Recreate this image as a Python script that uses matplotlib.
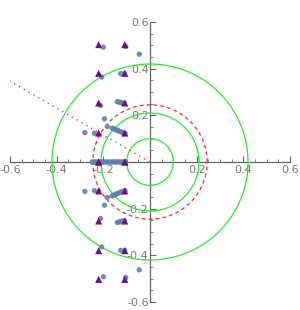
import numpy as np
import matplotlib
matplotlib.use("Agg")
from matplotlib import pyplot as plt

# pole positions (triangles)
tri_x = [-0.22, -0.108, -0.22, -0.108, -0.22, -0.108, -0.22, -0.108, -0.22, -0.108]
tri_y = [0.0, 0.0, 0.124, 0.124, 0.253, 0.253, 0.38, 0.38, 0.503, 0.503]

# root points, upper half plane (lower half is the conjugate)
dot_x = [-0.200, -0.104, -0.046,
         -0.207, -0.126, -0.109,
         -0.212, -0.140, -0.133, -0.126, -0.118, -0.109,
         -0.195, -0.183, -0.279, -0.238,
         -0.162, -0.155, -0.148, -0.141, -0.134, -0.127, -0.120, -0.113, -0.107]
dot_y = [0.492, 0.495, 0.462,
         0.364, 0.379, 0.379,
         0.242, 0.259, 0.257, 0.255, 0.253, 0.252,
         0.185, 0.152, 0.126, 0.123,
         0.145, 0.142, 0.139, 0.136, 0.133, 0.130, 0.128, 0.125, 0.123]
# one point just above the frame (only a sliver shows)
edge_x = [-0.245]
edge_y = [0.617]
# roots on the real axis
real_x = [-0.248, -0.240, -0.232, -0.224, -0.216, -0.208, -0.200, -0.192, -0.184,
          -0.176, -0.168, -0.160, -0.152, -0.144, -0.136, -0.128, -0.120, -0.112, -0.106]

green_r = [0.1, 0.21, 0.42]
red_r = 0.245
zeta_angle = 150  # degrees
ticks = [-0.6, -0.4, -0.2, 0.2, 0.4, 0.6]

fig = plt.figure(figsize=(3, 3.1), dpi=100)
ax = fig.add_axes([10 / 300, 8 / 310, 280 / 300, 280 / 310])
ax.set_xlim(-0.6, 0.6)
ax.set_ylim(-0.6, 0.6)
ax.set_aspect("equal")

t = np.linspace(0, 2 * np.pi, 400)
for r in green_r:
    ax.plot(r * np.cos(t), r * np.sin(t), color="#22ee22", lw=0.9, zorder=2)
ax.plot(red_r * np.cos(t), red_r * np.sin(t), color="#ff2222", lw=0.9,
        ls=(0, (3, 2.5)), zorder=2)

a = np.deg2rad(zeta_angle)
ax.plot([0, 0.75 * np.cos(a)], [0, 0.75 * np.sin(a)], color="#ff3333", lw=1.0,
        ls=(0, (1, 3)), zorder=2)
ax.plot([-0.6, 0], [0, 0], color="#22ee22", lw=1.0, ls=(0, (1, 2)), zorder=1)

xs = dot_x + dot_x + real_x + edge_x
ys = dot_y + [-y for y in dot_y] + [0.0] * len(real_x) + edge_y
ax.scatter(xs, ys, s=15, color="#5e81b5", edgecolors="none", alpha=0.9, zorder=3)
ax.scatter(tri_x + tri_x, tri_y + [-y for y in tri_y], s=26, marker="^",
           color="#7a0a84", edgecolors="none", zorder=4)

# mathematica-style axes through origin
for s in ["top", "right"]:
    ax.spines[s].set_visible(False)
ax.spines["left"].set_position(("data", 0))
ax.spines["bottom"].set_position(("data", 0))
for s in ["left", "bottom"]:
    ax.spines[s].set_color("#666666")
    ax.spines[s].set_linewidth(0.9)
    ax.spines[s].set_zorder(1.5)

ax.set_xticks(ticks)
ax.set_yticks(ticks)
ax.set_xticks(np.arange(-0.6, 0.61, 0.05), minor=True)
ax.set_yticks(np.arange(-0.6, 0.61, 0.05), minor=True)
ax.set_xticklabels([f"{v:.1f}" for v in ticks])
ax.set_yticklabels([f"{v:.1f}" for v in ticks])
ax.tick_params(axis="x", which="both", direction="in", colors="#666666",
               labelcolor="#777777", labelsize=8, pad=2)
ax.tick_params(axis="y", which="both", direction="in", colors="#666666",
               labelcolor="#777777", labelsize=8, pad=1)
ax.tick_params(which="major", length=4, width=0.8)
ax.tick_params(which="minor", length=2, width=0.6)

fig.savefig("out.png", dpi=100)
